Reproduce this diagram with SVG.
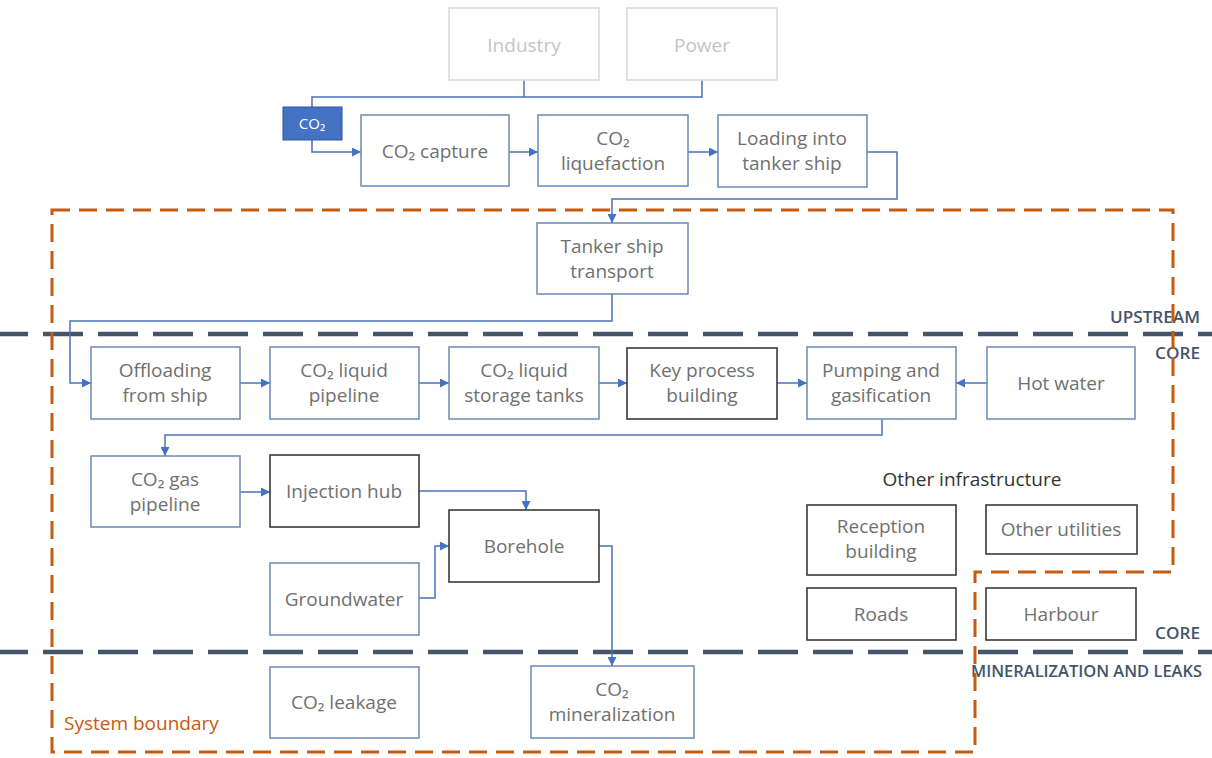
<svg xmlns="http://www.w3.org/2000/svg" width="1212" height="758" viewBox="0 0 1212 758">
  <defs>
    <marker id="arrow" viewBox="0 0 10 10" refX="10" refY="5" markerWidth="9" markerHeight="9" markerUnits="userSpaceOnUse" orient="auto">
      <path d="M0,0 L10,5 L0,10 Z" fill="#4472c4"/>
    </marker>
    <style>
      .box { fill: #ffffff; stroke: #6a8ab4; stroke-width: 1.5; }
      .dark { fill: #ffffff; stroke: #3a3a3a; stroke-width: 1.6; }
      .faint { fill: #ffffff; stroke: #d6d6d6; stroke-width: 1.5; }
      .src { fill: #4472c4; stroke: #2f5597; stroke-width: 1; }
      .t { font-family: "Open Sans", "Noto Sans", sans-serif; font-size: 19px; fill: #707070; text-anchor: middle; }
      .tf { fill: #c4c4c4; }
      .tw { fill: #ffffff; font-size: 15px; }
      .conn { fill: none; stroke: #4a72b8; stroke-width: 1.5; }
      .arr { marker-end: url(#arrow); }
      .zone { fill: none; stroke: #44546a; stroke-width: 4.5; stroke-dasharray: 40 15; }
      .zlabel { font-family: "Open Sans", "Noto Sans", sans-serif; font-size: 16px; font-weight: 600; fill: #44546a; text-anchor: end; }
      .boundary { fill: none; stroke: #c55a11; stroke-width: 3; stroke-dasharray: 18 9; }
      .blabel { font-family: "Open Sans", "Noto Sans", sans-serif; font-size: 19px; fill: #c55a11; }
      .head { font-family: "Open Sans", "Noto Sans", sans-serif; font-size: 19px; fill: #333333; text-anchor: middle; }
    </style>
  </defs>
  <rect width="1212" height="758" fill="#ffffff"/>

  <!-- zone dividers -->
  <g id="zones">
    <path class="zone" d="M-12,334 H1212"/>
    <path class="zone" d="M-12,652 H1212"/>
    <text class="zlabel" x="1200" y="323" textLength="90" lengthAdjust="spacingAndGlyphs">UPSTREAM</text>
    <text class="zlabel" x="1200" y="359" textLength="45" lengthAdjust="spacingAndGlyphs">CORE</text>
    <text class="zlabel" x="1200" y="639" textLength="45" lengthAdjust="spacingAndGlyphs">CORE</text>
    <text class="zlabel" x="1202" y="677" textLength="231" lengthAdjust="spacingAndGlyphs">MINERALIZATION AND LEAKS</text>
  </g>

  <!-- connectors -->
  <g id="connectors">
    <path class="conn" d="M524,80 V97"/>
    <path class="conn" d="M702,80 V97 H312 V107"/>
    <path class="conn arr" d="M312,140 V152 H361"/>
    <path class="conn arr" d="M509,152 H538"/>
    <path class="conn arr" d="M688,152 H718"/>
    <path class="conn arr" d="M867,152 H897 V199 H612 V223"/>
    <path class="conn arr" d="M612,294 V321 H70 V383 H91"/>
    <path class="conn arr" d="M240,383 H270"/>
    <path class="conn arr" d="M419,383 H449"/>
    <path class="conn arr" d="M599,383 H627"/>
    <path class="conn arr" d="M777,383 H807"/>
    <path class="conn arr" d="M987,383 H956"/>
    <path class="conn arr" d="M882,419 V435 H165 V456"/>
    <path class="conn arr" d="M240,492 H270"/>
    <path class="conn arr" d="M419,491 H526 V510"/>
    <path class="conn arr" d="M419,598 H435 V546 H449"/>
    <path class="conn arr" d="M599,546 H612 V666"/>
  </g>

  <!-- emitters -->
  <g id="industry">
    <rect class="faint" x="449" y="8" width="150" height="72"/>
    <text class="t tf" x="524" y="52">Industry</text>
  </g>
  <g id="power">
    <rect class="faint" x="627" y="8" width="150" height="72"/>
    <text class="t tf" x="702" y="52">Power</text>
  </g>
  <g id="co2-source">
    <rect class="src" x="283" y="107" width="59" height="33"/>
    <text class="t tw" x="312" y="129">CO₂</text>
  </g>

  <!-- upstream chain -->
  <g id="co2-capture">
    <rect class="box" x="361" y="115" width="148" height="71"/>
    <text class="t" x="435" y="158">CO₂ capture</text>
  </g>
  <g id="co2-liquefaction">
    <rect class="box" x="538" y="115" width="150" height="71"/>
    <text class="t" x="613" y="145">CO₂</text>
    <text class="t" x="613" y="170">liquefaction</text>
  </g>
  <g id="loading">
    <rect class="box" x="718" y="115" width="149" height="72"/>
    <text class="t" x="792" y="145">Loading into</text>
    <text class="t" x="792" y="170">tanker ship</text>
  </g>
  <g id="tanker-transport">
    <rect class="box" x="537" y="223" width="151" height="71"/>
    <text class="t" x="612" y="253">Tanker ship</text>
    <text class="t" x="612" y="278">transport</text>
  </g>

  <!-- core chain -->
  <g id="offloading">
    <rect class="box" x="91" y="347" width="149" height="72"/>
    <text class="t" x="165" y="377">Offloading</text>
    <text class="t" x="165" y="402">from ship</text>
  </g>
  <g id="liquid-pipeline">
    <rect class="box" x="270" y="347" width="149" height="72"/>
    <text class="t" x="344" y="377">CO₂ liquid</text>
    <text class="t" x="344" y="402">pipeline</text>
  </g>
  <g id="storage-tanks">
    <rect class="box" x="449" y="347" width="150" height="72"/>
    <text class="t" x="524" y="377">CO₂ liquid</text>
    <text class="t" x="524" y="402">storage tanks</text>
  </g>
  <g id="key-process">
    <rect class="dark" x="627" y="348" width="150" height="71"/>
    <text class="t" x="702" y="377">Key process</text>
    <text class="t" x="702" y="402">building</text>
  </g>
  <g id="pumping">
    <rect class="box" x="807" y="347" width="149" height="72"/>
    <text class="t" x="881" y="377">Pumping and</text>
    <text class="t" x="881" y="402">gasification</text>
  </g>
  <g id="hot-water">
    <rect class="box" x="987" y="347" width="148" height="72"/>
    <text class="t" x="1061" y="390">Hot water</text>
  </g>
  <g id="gas-pipeline">
    <rect class="box" x="91" y="456" width="149" height="71"/>
    <text class="t" x="165" y="486">CO₂ gas</text>
    <text class="t" x="165" y="511">pipeline</text>
  </g>
  <g id="injection-hub">
    <rect class="dark" x="270" y="455" width="149" height="72"/>
    <text class="t" x="344" y="498">Injection hub</text>
  </g>
  <g id="borehole">
    <rect class="dark" x="449" y="510" width="150" height="72"/>
    <text class="t" x="524" y="553">Borehole</text>
  </g>
  <g id="groundwater">
    <rect class="box" x="270" y="563" width="149" height="72"/>
    <text class="t" x="344" y="606">Groundwater</text>
  </g>

  <!-- other infrastructure -->
  <g id="other-infrastructure">
    <text class="head" x="972" y="486">Other infrastructure</text>
  </g>
  <g id="reception">
    <rect class="dark" x="807" y="505" width="149" height="70"/>
    <text class="t" x="881" y="533">Reception</text>
    <text class="t" x="881" y="558">building</text>
  </g>
  <g id="utilities">
    <rect class="dark" x="986" y="505" width="151" height="49"/>
    <text class="t" x="1061" y="536">Other utilities</text>
  </g>
  <g id="roads">
    <rect class="dark" x="807" y="588" width="149" height="52"/>
    <text class="t" x="881" y="621">Roads</text>
  </g>
  <g id="harbour">
    <rect class="dark" x="986" y="588" width="150" height="52"/>
    <text class="t" x="1061" y="621">Harbour</text>
  </g>

  <!-- mineralization and leaks -->
  <g id="leakage">
    <rect class="box" x="270" y="667" width="149" height="71"/>
    <text class="t" x="344" y="709">CO₂ leakage</text>
  </g>
  <g id="mineralization">
    <rect class="box" x="531" y="666" width="163" height="72"/>
    <text class="t" x="612" y="696">CO₂</text>
    <text class="t" x="612" y="721">mineralization</text>
  </g>

  <!-- system boundary -->
  <g id="system-boundary">
    <path class="boundary" d="M52,210 H1173 V572 H975 V752 H52 Z"/>
    <text class="blabel" x="64" y="730">System boundary</text>
  </g>
</svg>
